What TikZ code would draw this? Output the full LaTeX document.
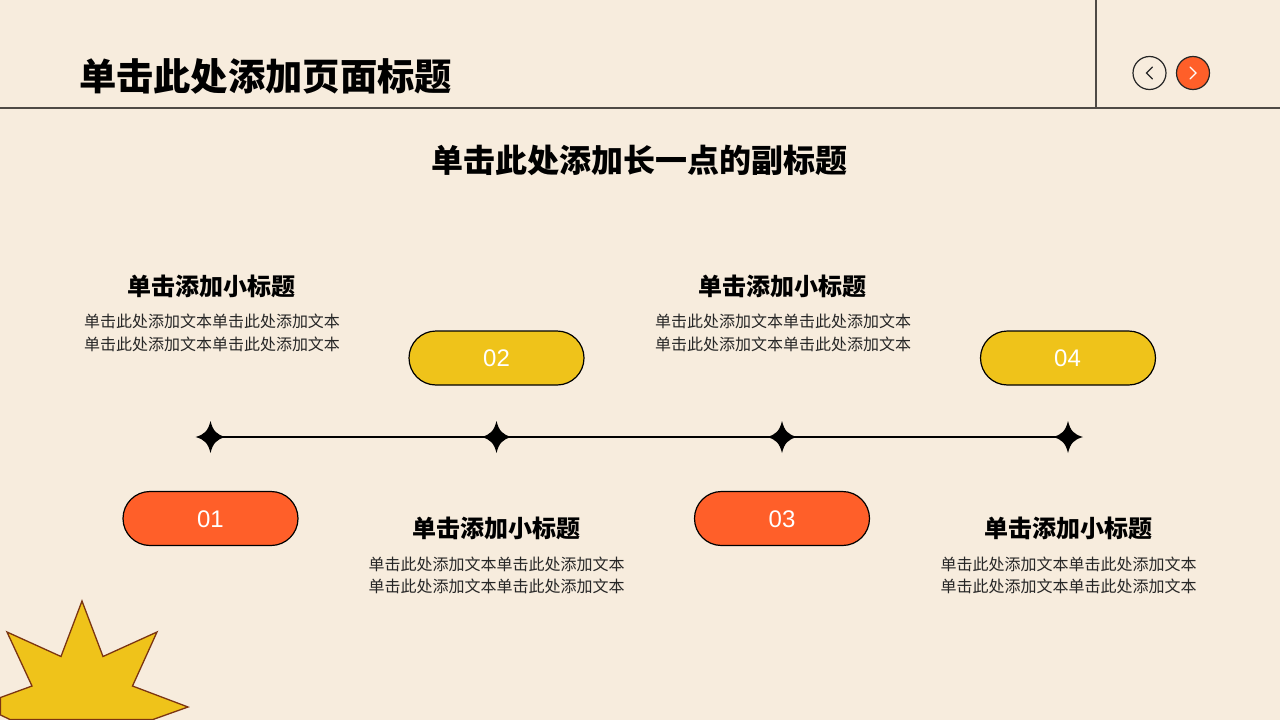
\documentclass[tikz,border=0pt]{standalone}
\usepackage{fontspec}
\setmainfont{Liberation Sans}
\newfontfamily\cjk{Noto Sans CJK SC}
\definecolor{bgc}{HTML}{F7ECDD}
\definecolor{orangec}{HTML}{FF5F29}
\definecolor{yellowc}{HTML}{EFC31A}
\definecolor{ruleC}{HTML}{4F4A45}
\definecolor{starline}{HTML}{7B3512}
\tikzset{
  x=1pt,y=-1pt,
  every node/.style={inner sep=0pt,outer sep=0pt},
  rulestyle/.style={draw=ruleC,line width=1.5pt},
  pagetitle/.style={anchor=center,font=\cjk\bfseries\fontsize{37.3}{40}\selectfont,text=black},
  subtitle/.style={anchor=center,font=\cjk\bfseries\fontsize{32}{36}\selectfont,text=black},
  smalltitle/.style={anchor=center,font=\cjk\bfseries\fontsize{24}{28}\selectfont,text=black},
  bodytext/.style={anchor=center,align=center,text=black!85,font=\cjk\fontsize{16}{22.5}\selectfont},
  pillbase/.style={draw=black,line width=1.2pt,rounded rectangle,minimum width=175pt,minimum height=54pt,text=white,font=\fontsize{24}{28}\selectfont},
  pillY/.style={pillbase,fill=yellowc},
  pillO/.style={pillbase,fill=orangec},
  pillnum/.style={text=white,font=\fontsize{24}{28}\selectfont},
  navbtn/.style={circle,draw=black!85,line width=1.2pt,minimum size=33pt},
  chevron/.style={line width=1.2pt,line cap=round,line join=miter},
  timeline/.style={draw=black,line width=1.2pt},
  sparkle/.style={fill=black,draw=none}
}
\usetikzlibrary{shapes.misc}
\begin{document}
\begin{tikzpicture}
\useasboundingbox (0,0) rectangle (1280,720);
\fill[bgc] (0,0) rectangle (1280,720);
% rules
\coordinate (ruleL) at (0,108);
\coordinate (ruleR) at (1280,108);
\coordinate (vT) at (1096,0);
\coordinate (vB) at (1096,108);
\draw[rulestyle] (ruleL) -- (ruleR);
\draw[rulestyle] (vT) -- (vB);
% burst
\draw[draw=starline,fill=yellowc,line width=1.3pt,line join=miter]
  (82,601) -- (103,656.5) -- (157,632) -- (132.5,686) -- (188,707) -- (153,719.5)
  -- (10,719.5) -- (0.5,715) -- (0.5,697.5) -- (32,686) -- (7,632) -- (61,656.5) -- cycle;
% titles
\node[pagetitle] (title) at (265.5,76) {单击此处添加页面标题};
\node[subtitle] (sub) at (639.5,160) {单击此处添加长一点的副标题};
% nav
\node[navbtn] (prev) at (1149.5,73) {};
\node[navbtn,fill=orangec] (next) at (1193,73) {};
\draw[chevron,draw=black!85] ([shift={(3,-6)}]prev.center) -- ([shift={(-3,0)}]prev.center) -- ([shift={(3,6)}]prev.center);
\draw[chevron,draw=white] ([shift={(-3,-6)}]next.center) -- ([shift={(3,0)}]next.center) -- ([shift={(-3,6)}]next.center);
% timeline
\coordinate (s1) at (210.5,437);
\coordinate (s2) at (496.5,437);
\coordinate (s3) at (782,437);
\coordinate (s4) at (1068,437);
\draw[timeline] (s1) -- (s2);
\draw[timeline] (s2) -- (s3);
\draw[timeline] (s3) -- (s4);
\foreach \s in {s1,s2,s3,s4}{
  \fill[sparkle] ([shift={(0,-16)}]\s) .. controls ([shift={(2.5,-6)}]\s) and ([shift={(6,-2.5)}]\s) .. ([shift={(15,0)}]\s)
    .. controls ([shift={(6,2.5)}]\s) and ([shift={(2.5,6)}]\s) .. ([shift={(0,16)}]\s)
    .. controls ([shift={(-2.5,6)}]\s) and ([shift={(-6,2.5)}]\s) .. ([shift={(-15,0)}]\s)
    .. controls ([shift={(-6,-2.5)}]\s) and ([shift={(-2.5,-6)}]\s) .. cycle;
}
% pills
\node[pillO] (p1) at (210.5,518.5) {};
\node[pillY] (p2) at (496.5,358) {};
\node[pillO] (p3) at (782,518.5) {};
\node[pillY] (p4) at (1068,358) {};
\node[pillnum] (n1) at (210.5,519.5) {01};
\node[pillnum] (n2) at (496.5,358.5) {02};
\node[pillnum] (n3) at (782,519.5) {03};
\node[pillnum] (n4) at (1067.5,358.5) {04};
% texts
\node[smalltitle] (h1) at (211.5,286) {单击添加小标题};
\node[bodytext] (b1) at (212,333) {单击此处添加文本单击此处添加文本\\单击此处添加文本单击此处添加文本};
\node[smalltitle] (h2) at (496.5,528) {单击添加小标题};
\node[bodytext] (b2) at (496.5,575.5) {单击此处添加文本单击此处添加文本\\单击此处添加文本单击此处添加文本};
\node[smalltitle] (h3) at (782.5,286) {单击添加小标题};
\node[bodytext] (b3) at (783,333) {单击此处添加文本单击此处添加文本\\单击此处添加文本单击此处添加文本};
\node[smalltitle] (h4) at (1068.5,528) {单击添加小标题};
\node[bodytext] (b4) at (1068.5,575.5) {单击此处添加文本单击此处添加文本\\单击此处添加文本单击此处添加文本};
\end{tikzpicture}
\end{document}
